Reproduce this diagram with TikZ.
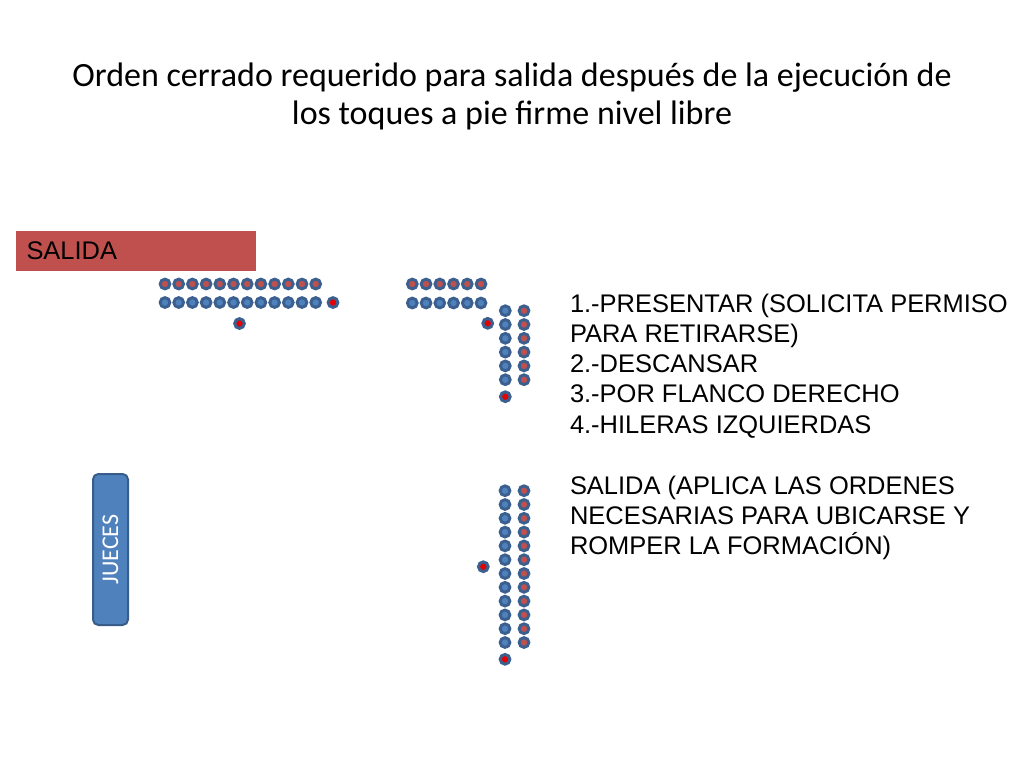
\documentclass[tikz,border=0pt]{standalone}
\usepackage{fontspec}
\setmainfont{Liberation Sans}
\newfontfamily\titlefont{Carlito}
\usetikzlibrary{positioning}

\tikzset{every picture/.style={line width=0.75pt}}
\tikzset{
  cadet/.style={circle, draw={rgb, 255:red, 59; green, 96; blue, 143 }, line width=2.2pt, minimum size=7.3pt, inner sep=0pt},
  cadetblue/.style={cadet, fill={rgb, 255:red, 79; green, 129; blue, 189 }},
  cadetred/.style={cadet, fill={rgb, 255:red, 192; green, 80; blue, 77 }},
  leader/.style={cadet, fill={rgb, 255:red, 230; green, 0; blue, 0 }},
  order/.style={font=\fontsize{19.1}{22.7}\selectfont, align=left, inner sep=0pt, anchor=north west},
}

\begin{document}
\begin{tikzpicture}[x=0.75pt,y=0.75pt,yscale=-1,xscale=1]

\useasboundingbox (0,0) rectangle (1024,768);

% Title
\draw (512,86.5) node [anchor=base, inner sep=0pt] (title1) {\titlefont\fontsize{25.5}{30}\selectfont Orden cerrado requerido para salida después de la ejecución de};
\draw (512,124) node [anchor=base, inner sep=0pt] (title2) {\titlefont\fontsize{25.5}{30}\selectfont los toques a pie firme nivel libre};

% Salida
\fill [color={rgb, 255:red, 192; green, 80; blue, 77 }] (16,231) -- (256,231) -- (256,271) -- (16,271) -- cycle ;
\draw (26,259.3) node [anchor=base west, inner sep=0pt, font=\fontsize{19.1}{22}\selectfont] (salida) {SALIDA};

% Jueces
\draw (110.5,549.5) node [rotate=90, draw={rgb, 255:red, 56; green, 93; blue, 138 }, line width=1.5pt, fill={rgb, 255:red, 79; green, 129; blue, 189 }, rounded corners=4pt, minimum width=113.25pt, minimum height=26.25pt, text=white, font=\titlefont\fontsize{18}{22}\selectfont] (jueces) {JUECES};

% Formation before
\foreach \i in {0,...,11} {
  \draw (165+13.7*\i,284) node [cadetred] (a1-\i) {};
  \draw (165+13.7*\i,302.5) node [cadetblue] (a2-\i) {};
}
\draw (333,302.5) node [leader] (aguide) {};
\draw (239.5,323.5) node [leader] (acmd) {};

% Formation after flank
\foreach \i in {0,...,5} {
  \draw (412.3+13.74*\i,284) node [cadetred] (b1-\i) {};
  \draw (412.3+13.74*\i,303) node [cadetblue] (b2-\i) {};
  \draw (505.3,310.7+13.8*\i) node [cadetblue] (c1-\i) {};
  \draw (524,310.7+13.8*\i) node [cadetred] (c2-\i) {};
}
\draw (505.3,396.7) node [leader] (cguide) {};
\draw (487.7,323.3) node [leader] (ccmd) {};

% Formation in files
\foreach \i in {0,...,11} {
  \draw (505,490.7+13.8*\i) node [cadetblue] (d1-\i) {};
  \draw (524,490.7+13.8*\i) node [cadetred] (d2-\i) {};
}
\draw (505,659.3) node [leader] (dguide) {};
\draw (483.3,566.7) node [leader] (dcmd) {};

% Orders
\draw (569.5,293.2) node [order] (steps) {1.-PRESENTAR (SOLICITA PERMISO\\PARA RETIRARSE)\\2.-DESCANSAR\\3.-POR FLANCO DERECHO\\4.-HILERAS IZQUIERDAS};
\draw (569.5,475.1) node [order] (exitnote) {SALIDA (APLICA LAS ORDENES\\NECESARIAS PARA UBICARSE Y\\ROMPER LA FORMACIÓN)};

\end{tikzpicture}
\end{document}
